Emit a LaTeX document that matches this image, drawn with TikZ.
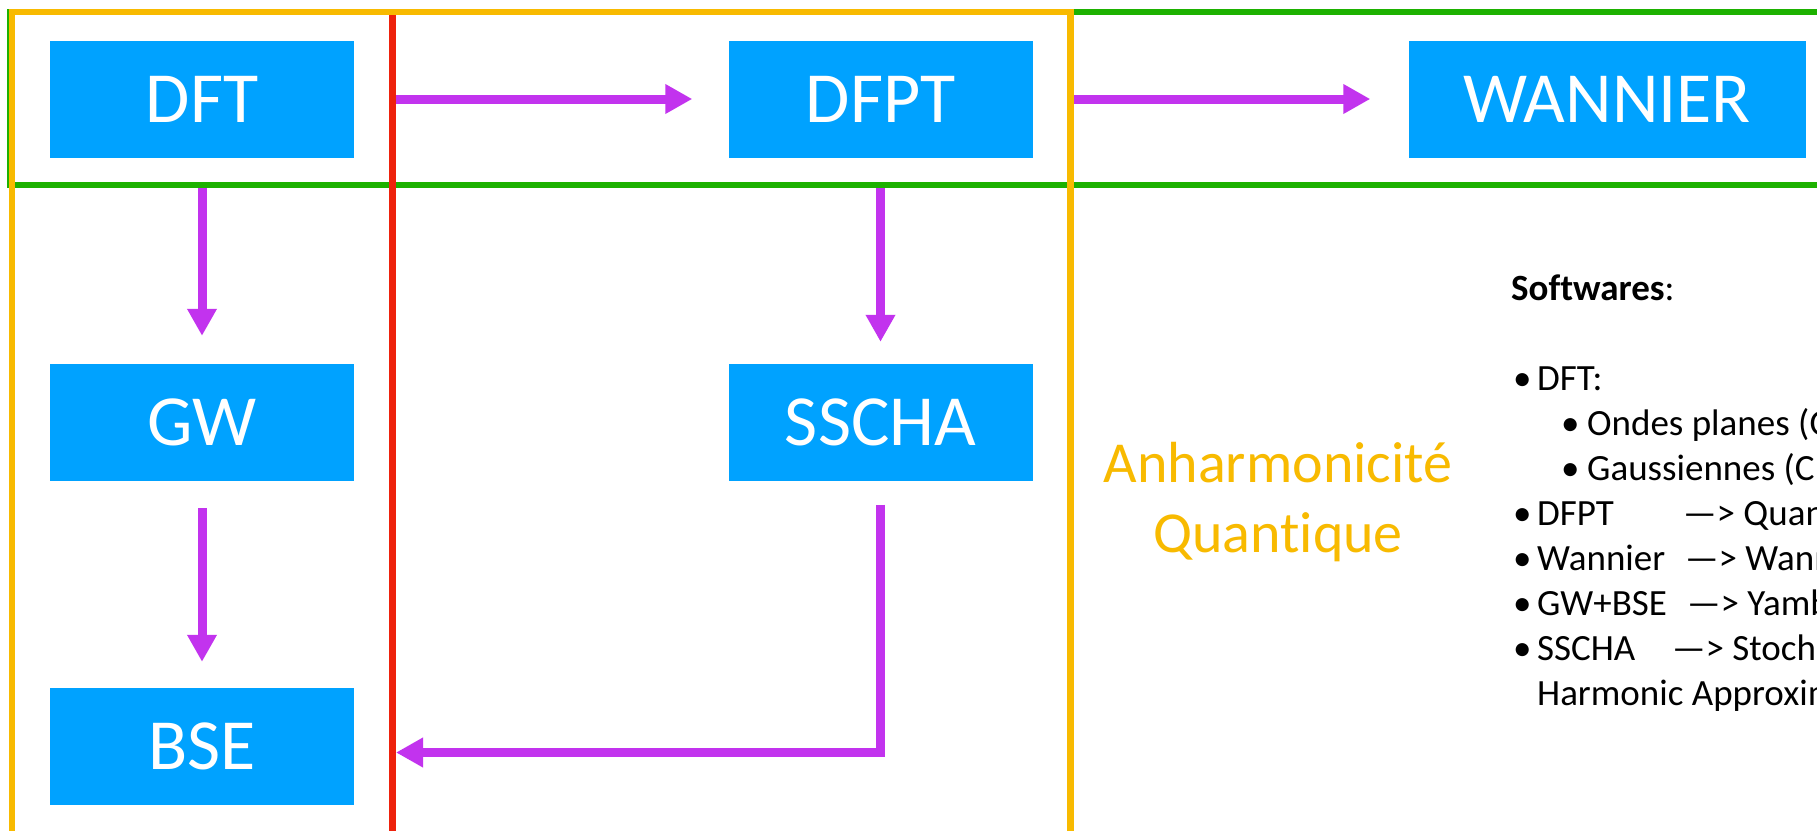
\documentclass[tikz,border=0pt]{standalone}
\usepackage{fontspec}
\setmainfont{Carlito}[Ligatures=NoCommon]
\usetikzlibrary{arrows.meta}
\definecolor{boxblue}{HTML}{00A2FF}
\definecolor{flowpurple}{HTML}{C233EE}
\definecolor{fgreen}{HTML}{1DB100}
\definecolor{fred}{HTML}{EE220C}
\definecolor{forange}{HTML}{F8BA00}
\begin{document}
\begin{tikzpicture}[x=1pt,y=-1pt,
  stepbox/.style={fill=boxblue, text=white, minimum width=304pt, minimum height=117pt, inner sep=0pt, font=\fontsize{72}{86}\selectfont},
  flow/.style={draw=flowpurple, line width=9pt, -{Triangle[length=27pt,width=28pt]}, line join=miter},
  frameline/.style={line width=6.5pt},
  sw/.style={anchor=base west, inner sep=0pt, font=\fontsize{37}{45}\selectfont}]
\useasboundingbox (0,0) rectangle (1817,830);
\clip (0,0) rectangle (1817,830);
\fill[white] (0,0) rectangle (1817,830);
% nodes
\node[stepbox] (dft) at (202,99) {DFT};
\node[stepbox] (dfpt) at (880.5,99) {DFPT};
\node[stepbox, minimum width=397pt] (wan) at (1607,99) {WANNIER};
\node[stepbox] (gw) at (202,422) {GW};
\node[stepbox] (sscha) at (880.5,422) {SSCHA};
\node[stepbox] (bse) at (202,746) {BSE};
% reference coordinates of frame lines
\coordinate (redline) at (392.5,0);
\coordinate (redR) at (396,0);
\coordinate (orline) at (1070.5,0);
\coordinate (grline) at (0,185);
\path ([yshift=-6.5pt]bse.east) coordinate (bseh);
% connectors
\draw[flow] (dft.east -| redline) -- ([xshift=-36pt]dfpt.west);
\draw[flow] (dfpt.east -| orline) -- ([xshift=-38pt]wan.west);
\draw[flow] (dft.south |- grline) -- ([yshift=27.5pt]gw.north);
\draw[flow] (dfpt.south |- grline) -- ([yshift=21.5pt]sscha.north);
\draw[flow] ([yshift=-27.5pt]gw.south) -- ([yshift=25.5pt]bse.north);
\draw[flow] ([yshift=-24pt]sscha.south) |- (bseh -| redR);
% frames
\draw[frameline, draw=fgreen] (10,12) rectangle (1840,185);
\draw[frameline, draw=fred] (392.5,12) -- (392.5,840);
\draw[frameline, draw=forange] (12,12) rectangle (1070.5,850);
% labels
\node[anchor=base, text=forange, font=\fontsize{58}{70}\selectfont, align=center, inner sep=0pt] (anh) at (1278,552) {Anharmonicité\\Quantique};
\node[sw] (h) at (1511,300) {\textbf{Softwares}:};
\node[sw] (l1) at (1513,390) {\makebox[24pt][l]{•}DFT:};
\node[sw] (l2) at (1561,435) {\makebox[26pt][l]{•}Ondes planes (Quantum ESPRESSO)};
\node[sw] (l3) at (1561,480) {\makebox[26pt][l]{•}Gaussiennes (CRYSTAL)};
\node[sw] (l4) at (1513,525) {\makebox[24pt][l]{•}\makebox[146pt][l]{DFPT}—> Quantum ESPRESSO};
\node[sw] (l5) at (1513,570) {\makebox[24pt][l]{•}\makebox[148pt][l]{Wannier}—> Wannier90};
\node[sw] (l6) at (1513,615) {\makebox[24pt][l]{•}\makebox[150pt][l]{GW+BSE}—> Yambo};
\node[sw] (l7) at (1513,660) {\makebox[24pt][l]{•}\makebox[135pt][l]{SSCHA}—> Stochastic Self-Consistent};
\node[sw] (l8) at (1537,705) {Harmonic Approximation};
\end{tikzpicture}
\end{document}
